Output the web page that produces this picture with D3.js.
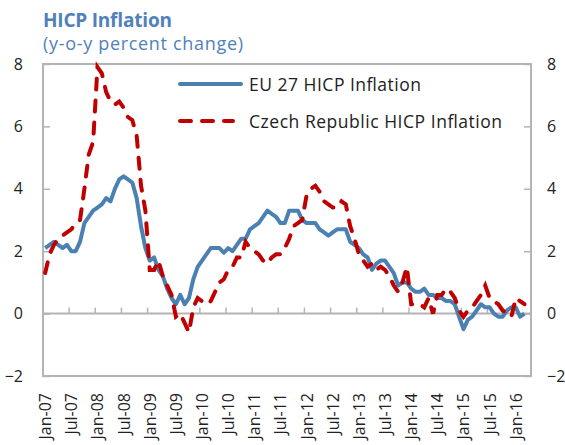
<!DOCTYPE html>
<html lang="en">
<head>
<meta charset="UTF-8">
<title>HICP Inflation</title>
<script src="https://d3js.org/d3.v7.min.js"></script>
<style>
  body { margin: 0; background: #fff; }
  text { font-family: "Open Sans", sans-serif; }
</style>
</head>
<body>
<div id="chart"></div>
<script>
// monthly data, Jan-07 .. Mar-16
const eu27 = [
  2.1, 2.2, 2.3, 2.2, 2.1, 2.2, 2.0, 2.0, 2.3, 2.9, 3.1, 3.3,   // 2007
  3.4, 3.5, 3.7, 3.6, 4.0, 4.3, 4.4, 4.3, 4.2, 3.7, 2.8, 2.1,   // 2008
  1.7, 1.8, 1.4, 1.2, 0.8, 0.5, 0.3, 0.6, 0.3, 0.5, 1.1, 1.5,   // 2009
  1.7, 1.9, 2.1, 2.1, 2.1, 1.95, 2.1, 2.0, 2.2, 2.4, 2.4, 2.7,  // 2010
  2.8, 2.9, 3.1, 3.3, 3.2, 3.1, 2.9, 2.9, 3.3, 3.3, 3.3, 3.0,   // 2011
  2.9, 2.9, 2.9, 2.7, 2.6, 2.5, 2.6, 2.7, 2.7, 2.7, 2.3, 2.2,   // 2012
  2.1, 1.9, 1.8, 1.4, 1.6, 1.7, 1.7, 1.5, 1.3, 0.9, 1.0, 1.0,   // 2013
  0.8, 0.7, 0.7, 0.8, 0.6, 0.6, 0.5, 0.5, 0.4, 0.4, 0.3, -0.1,  // 2014
  -0.5, -0.2, -0.1, 0.1, 0.3, 0.2, 0.2, 0.0, -0.1, -0.1, 0.1, 0.2, // 2015
  0.2, -0.1, 0.0                                                // 2016
];
const czech = [
  1.3, 1.9, 2.2, 2.4, 2.5, 2.6, 2.7, 2.9, 3.0, 4.0, 5.1, 5.5,   // 2007
  7.9, 7.7, 7.1, 6.8, 6.7, 6.8, 6.6, 6.3, 6.2, 5.7, 4.1, 3.3,   // 2008
  1.4, 1.4, 1.7, 1.2, 0.9, 0.6, -0.1, 0.0, -0.3, -0.6, 0.2, 0.5, // 2009
  0.4, 0.3, 0.4, 0.7, 1.0, 1.1, 1.4, 1.5, 1.8, 1.8, 2.3, 2.1,   // 2010
  2.0, 1.9, 1.7, 1.6, 1.8, 1.9, 1.9, 2.1, 2.4, 2.8, 2.9, 3.0,   // 2011
  3.8, 4.0, 4.1, 3.9, 3.6, 3.5, 3.4, 3.4, 3.6, 3.5, 2.8, 2.4,   // 2012
  1.9, 1.7, 1.5, 1.6, 1.4, 1.5, 1.4, 1.2, 0.9, 0.7, 1.0, 1.5,   // 2013
  0.3, 0.3, 0.3, 0.2, 0.5, 0.0, 0.6, 0.6, 0.8, 0.7, 0.5, 0.1,   // 2014
  -0.1, 0.1, 0.2, 0.4, 0.6, 0.9, 0.5, 0.4, 0.3, 0.1, 0.0, -0.1, // 2015
  0.5, 0.4, 0.3                                                 // 2016
];
const seriesNames = ["EU 27 HICP Inflation", "Czech Republic HICP Inflation"];
const yTicks = [-2, 0, 2, 4, 6, 8];
const xLabels = ["Jan-07","Jul-07","Jan-08","Jul-08","Jan-09","Jul-09","Jan-10","Jul-10",
  "Jan-11","Jul-11","Jan-12","Jul-12","Jan-13","Jul-13","Jan-14","Jul-14","Jan-15","Jul-15","Jan-16"];

const W = 565, H = 445;
const plot = {left: 43, right: 531, top: 64, bottom: 376};
const blue = "#4a80b2", red = "#c00000", grey = "#b4b4b4";

const fmt = d3.timeFormat("%b-%y");
// category axis: one slot per month, Jan-07 .. Apr-16
const months = d3.timeMonth.range(new Date(2007, 0, 1), new Date(2016, 4, 1));
const cats = months.map(fmt);

const x = d3.scaleBand().domain(cats).range([plot.left, plot.right]).padding(0);
const y = d3.scaleLinear().domain([-2, 8]).range([plot.bottom, plot.top]);
const cx = d => x(d) + x.bandwidth() / 2;

const svg = d3.select("#chart").append("svg")
  .attr("width", W).attr("height", H);

// title
svg.append("text").attr("x", 43).attr("y", 27)
  .attr("font-size", 19).attr("font-weight", "bold").attr("fill", "#4f81bd")
  .attr("textLength", 129).attr("lengthAdjust", "spacing")
  .text("HICP Inflation");
svg.append("text").attr("x", 43).attr("y", 50)
  .attr("font-size", 18).attr("fill", "#4f81bd")
  .attr("textLength", 200).attr("lengthAdjust", "spacing")
  .text("(y-o-y percent change)");

// y axes (ticks point into the plot)
const yl = svg.append("g").attr("transform", `translate(${plot.left},0)`)
  .call(d3.axisLeft(y).tickValues(yTicks).tickSize(-7).tickPadding(20));
const yr = svg.append("g").attr("transform", `translate(${plot.right},0)`)
  .call(d3.axisRight(y).tickValues(yTicks).tickSize(-7).tickPadding(16));
[yl, yr].forEach(g => {
  g.select(".domain").remove();
  g.selectAll("line").attr("stroke", grey).attr("stroke-width", 1.5);
  g.selectAll("text").attr("font-size", 16).attr("fill", "#222")
    .style("font-family", "'Open Sans', sans-serif");
});

// x axis at zero with ticks every 6 months
const tickCats = cats.filter(c => xLabels.includes(c));
svg.append("line")
  .attr("x1", plot.left).attr("x2", plot.right)
  .attr("y1", y(0)).attr("y2", y(0))
  .attr("stroke", grey).attr("stroke-width", 2);
svg.selectAll(".xtick").data(tickCats).join("line")
  .attr("class", "xtick")
  .attr("x1", d => x(d)).attr("x2", d => x(d))
  .attr("y1", y(0)).attr("y2", y(0) - 6)
  .attr("stroke", grey).attr("stroke-width", 1.5);
svg.selectAll(".xlab").data(tickCats).join("text")
  .attr("class", "xlab")
  .attr("transform", d => `translate(${cx(d) + 6},393) rotate(-90)`)
  .attr("text-anchor", "end")
  .attr("font-size", 16).attr("fill", "#222")
  .text(d => d);

// frame
svg.append("rect")
  .attr("x", plot.left).attr("y", plot.top)
  .attr("width", plot.right - plot.left).attr("height", plot.bottom - plot.top)
  .attr("fill", "none").attr("stroke", grey).attr("stroke-width", 2);

// lines
const line = d3.line().x((d, i) => cx(cats[i])).y(d => y(d));
svg.append("path").datum(eu27)
  .attr("fill", "none").attr("stroke", blue).attr("stroke-width", 4)
  .attr("stroke-linejoin", "round")
  .attr("d", line);
svg.append("path").datum(czech)
  .attr("fill", "none").attr("stroke", red).attr("stroke-width", 4)
  .attr("stroke-linecap", "round").attr("stroke-dasharray", "11,11")
  .attr("d", line);

// legend
const legend = svg.append("g");
const items = [
  {name: seriesNames[0], color: blue, dash: null, y: 84, len: 65, w: 172},
  {name: seriesNames[1], color: red, dash: "11,11", y: 121, len: 57, w: 253}
];
items.forEach(it => {
  legend.append("line")
    .attr("x1", 180).attr("x2", 180 + it.len - 4)
    .attr("y1", it.y).attr("y2", it.y)
    .attr("stroke", it.color).attr("stroke-width", 4)
    .attr("stroke-linecap", "round")
    .attr("stroke-dasharray", it.dash);
  legend.append("text")
    .attr("x", 249).attr("y", it.y + 7)
    .attr("font-size", 17.5).attr("fill", "#222")
    .attr("textLength", it.w).attr("lengthAdjust", "spacing")
    .text(it.name);
});
</script>
</body>
</html>
